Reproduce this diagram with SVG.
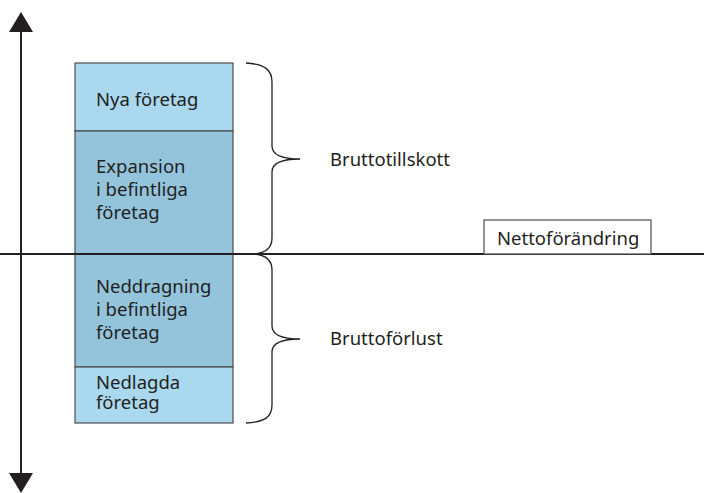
<svg xmlns="http://www.w3.org/2000/svg" width="704" height="493" viewBox="0 0 704 493">
<style>
text{font-family:"Noto Sans","Open Sans","Liberation Sans",sans-serif;font-size:18.5px;fill:#231f20}
.light{fill:#a9d8ef;stroke:#4d4d4d;stroke-width:1.2}
.dark{fill:#94c4dc;stroke:#4d4d4d;stroke-width:1.2}
.brace{fill:none;stroke:#231f20;stroke-width:1.3}
.axis{stroke:#231f20;stroke-width:2;fill:none}
</style>
<rect width="704" height="493" fill="#fff"/>
<g id="axes">
<line class="axis" x1="21" y1="28" x2="21" y2="478"/>
<polygon points="21,12 9,32 33,32" fill="#231f20"/>
<polygon points="21,493 9,473 33,473" fill="#231f20"/>
</g>
<g id="nya">
<rect class="light" x="75" y="63" width="158" height="68"/>
<text x="96" y="106">Nya företag</text>
</g>
<g id="expansion">
<rect class="dark" x="75" y="131" width="158" height="123"/>
<text x="96" y="173">Expansion</text>
<text x="96" y="196">i befintliga</text>
<text x="96" y="219">företag</text>
</g>
<g id="neddragning">
<rect class="dark" x="75" y="254" width="158" height="113"/>
<text x="96" y="293">Neddragning</text>
<text x="96" y="316">i befintliga</text>
<text x="96" y="339">företag</text>
</g>
<g id="nedlagda">
<rect class="light" x="75" y="367" width="158" height="56"/>
<text x="96" y="389">Nedlagda</text>
<text x="96" y="409">företag</text>
</g>
<g id="connectors">
<path class="brace" d="M246,63 C265,64 272,70 272,82 L272,146 C272,156 285,159 300,159 C285,159 272,162 272,172 L272,238 C272,248 266,253 254,254"/>
<path class="brace" d="M254,254 C266,255 272,260 272,270 L272,326 C272,336 285,339 300,339 C285,339 272,342 272,352 L272,405 C272,417 265,422 246,423"/>
<line class="axis" x1="0" y1="254" x2="704" y2="254"/>
</g>
<g id="bruttotillskott">
<text x="330" y="166">Bruttotillskott</text>
</g>
<g id="bruttoforlust">
<text x="330" y="345">Bruttoförlust</text>
</g>
<g id="netto">
<rect x="484" y="220" width="167" height="34" fill="#fff" stroke="#4d4d4d" stroke-width="1.2"/>
<text x="497" y="245">Nettoförändring</text>
</g>
</svg>
